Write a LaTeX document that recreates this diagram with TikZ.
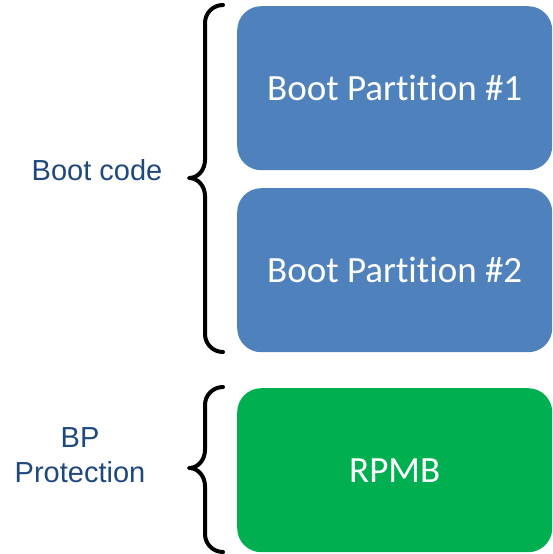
\documentclass[tikz,border=0pt]{standalone}
\usepackage{fontspec}
\setmainfont{Liberation Sans}
\newfontfamily\boxfont[Ligatures=NoCommon]{Carlito}
\definecolor{lblblue}{RGB}{31,73,125}
\definecolor{boxblue}{RGB}{79,129,189}
\definecolor{boxgreen}{RGB}{0,176,80}
\begin{document}
\begin{tikzpicture}[x=1pt,y=1pt,
  part/.style={rounded corners=24pt, minimum width=315pt, minimum height=164pt, inner sep=0pt,
    text=white, font=\boxfont\fontsize{37}{42}\selectfont, anchor=north west},
  lbl/.style={text=lblblue, font=\fontsize{29}{35}\selectfont, align=center},
  bracestyle/.style={line width=4pt, line cap=round, line join=round}]
\useasboundingbox (0,0) rectangle (552,-554);
\node[part, fill=boxblue] (bp1) at (237,-6) {Boot Partition \#1};
\node[part, fill=boxblue] (bp2) at (237,-188) {Boot Partition \#2};
\node[part, fill=boxgreen] (rpmb) at (237,-388) {RPMB};
\node[lbl] (bootcode) at (97,-170) {Boot code};
\node[lbl] (bpprot) at (80,-455) {BP\\Protection};
\draw[bracestyle] (223,-5) to[out=180,in=90] (205,-23) -- (205,-160)
  to[out=-90,in=0] (189,-178) to[out=0,in=90] (205,-196) -- (205,-334)
  to[out=-90,in=180] (223,-352);
\draw[bracestyle] (223,-387) to[out=180,in=90] (205,-405) -- (205,-450)
  to[out=-90,in=0] (189,-468) to[out=0,in=90] (205,-486) -- (205,-534)
  to[out=-90,in=180] (223,-552);
\end{tikzpicture}
\end{document}
